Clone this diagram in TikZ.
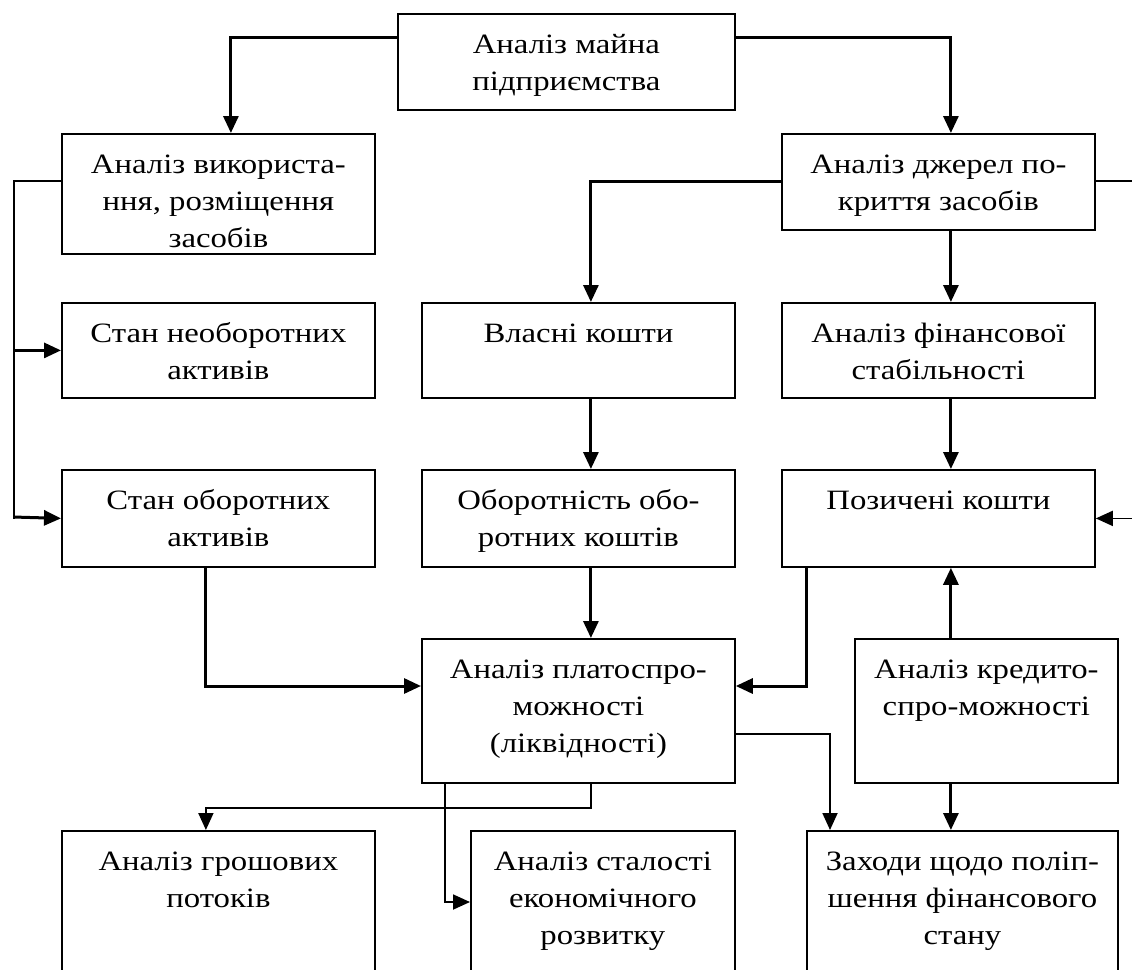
\documentclass[tikz,border=0pt]{standalone}
\usepackage{fontspec}
\setmainfont{Liberation Serif}[FakeStretch=1.17]
\usetikzlibrary{arrows.meta}
\newcommand{\cell}[3]{\parbox[c][#2][t]{#1}{\centering\vspace*{14pt}\strut #3}}
\tikzset{
  blk/.style={draw, line width=1.8pt, inner sep=0pt, anchor=north west},
  arr/.style={line width=3pt, -{Triangle[length=17pt,width=15pt]}},
  thinarr/.style={line width=1.8pt, -{Triangle[length=17pt,width=15pt]}},
  wire/.style={line width=1.8pt, line join=miter}
}

\begin{document}
\begin{tikzpicture}[x=1pt, y=-1pt, font=\fontsize{28}{37}\selectfont]
		%%%%% FRAME %%%%%
		\useasboundingbox[fill=white] (0,0) rectangle (1132,969);
		\clip (0,0) rectangle (1132,969);
		
		%%%%% BOXES %%%%%
		\node[blk] (main) at (397,13) {\cell{337pt}{96pt}{Аналіз майна\\підприємства}};
		
		\node[blk] (use) at (61,133) {\cell{313pt}{120pt}{Аналіз використа-\\ння, розміщення\\засобів}};
		\node[blk] (src) at (781,133) {\cell{313pt}{96pt}{Аналіз джерел по-\\криття засобів}};
		
		\node[blk] (fixed) at (61,302) {\cell{313pt}{95pt}{Стан необоротних\\активів}};
		\node[blk] (own) at (421,302) {\cell{313pt}{95pt}{Власні кошти}};
		\node[blk] (stab) at (781,302) {\cell{313pt}{95pt}{Аналіз фінансової\\стабільності}};
		
		\node[blk] (curr) at (61,469) {\cell{313pt}{97pt}{Стан оборотних\\активів}};
		\node[blk] (turn) at (421,469) {\cell{313pt}{97pt}{Оборотність обо-\\ротних коштів}};
		\node[blk] (loan) at (781,469) {\cell{313pt}{97pt}{Позичені кошти}};
		
		\node[blk] (solv) at (421,638) {\cell{313pt}{144pt}{Аналіз платоспро-\\можності\\(ліквідності)}};
		\node[blk] (cred) at (854,638) {\cell{263pt}{144pt}{Аналіз кредито-\\спро-можності}};
		
		\node[blk] (cash) at (61,830) {\cell{313pt}{170pt}{Аналіз грошових\\потоків}};
		\node[blk] (sust) at (470,830) {\cell{264pt}{170pt}{Аналіз сталості\\економічного\\розвитку}};
		\node[blk] (meas) at (806,830) {\cell{311pt}{170pt}{Заходи щодо поліп-\\шення фінансового\\стану}};
		
		%%%%% LINKS %%%%%
		\coordinate (lbus) at (14,181);
		\coordinate (lend) at (14,517);
		\coordinate (rbus) at (1150,181);
		
		\draw[arr] ([yshift=-24pt]main.north west) -| ([xshift=12.5pt]use.north);
		\draw[arr] ([yshift=-24pt]main.north east) -| ([xshift=12.5pt]src.north);
		
		\draw[wire] ([yshift=-48pt]use.north west) -- (lbus) -- ([yshift=-1.5pt]lend);
		\draw[arr] (lbus |- fixed.west) -- (fixed.west);
		\draw[arr] ([xshift=-0.9pt]lend) -- (curr.west);
		
		\draw[arr] ([yshift=-48pt]src.north west) -| ([xshift=12.5pt]own.north);
		\draw[thinarr] ([yshift=-48pt]src.north east) -- (rbus) |- (loan.east);
		\draw[arr] ([xshift=12.5pt]src.south) -- ([xshift=12.5pt]stab.north);
		\draw[arr] ([xshift=12.5pt]stab.south) -- ([xshift=12.5pt]loan.north);
		\draw[arr] ([xshift=12.5pt]own.south) -- ([xshift=12.5pt]turn.north);
		\draw[arr] ([xshift=12.5pt]turn.south) -- ([xshift=12.5pt]solv.north);
		
		\draw[arr] ([xshift=-12.5pt]curr.south) |- ([yshift=-48pt]solv.north west);
		\draw[arr] ([xshift=25pt]loan.south west) |- ([yshift=-48pt]solv.north east);
		\draw[arr] ([xshift=-35.5pt]cred.north) -- ([xshift=12.5pt]loan.south);
		\draw[arr] ([xshift=-35.5pt]cred.south) -- ([xshift=-35.5pt]cred.south |- meas.north);
		
		\draw[thinarr] ([yshift=-96pt]solv.north east) -| ([xshift=24pt]meas.north west);
		\draw[thinarr] ([xshift=12.5pt]solv.south) -- ++(0,-24pt) -| ([xshift=-12.5pt]cash.north);
		\draw[thinarr] ([xshift=24pt]solv.south west) |- ([yshift=-72pt]sust.north west);
\end{tikzpicture}
\end{document}
